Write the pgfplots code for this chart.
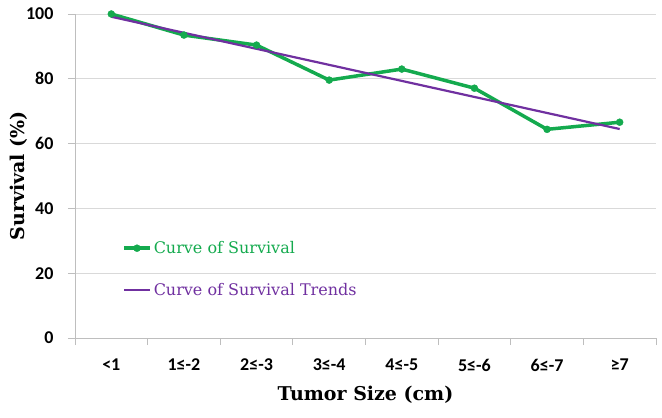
\documentclass[border=0pt]{standalone}
\usepackage{fontspec}
\setmainfont{DejaVu Serif}
\newfontfamily\calb{Carlito}
\usepackage{pgfplots}
\pgfplotsset{compat=1.18}
\definecolor{sgreen}{RGB}{20,170,78}
\definecolor{spurple}{RGB}{112,48,160}
\definecolor{gridgray}{RGB}{217,217,217}
\definecolor{axgray}{RGB}{190,190,190}
\begin{document}
\begin{tikzpicture}
\path[use as bounding box] (-75pt,-80pt) rectangle (587pt,338pt);
\begin{axis}[
  at={(0,0)}, anchor=south west,
  scale only axis, width=581pt, height=324pt,
  xmin=-0.5, xmax=7.5, ymin=0, ymax=100,
  axis x line=bottom, axis y line=left,
  axis line style={-, draw=axgray, line width=0.8pt},
  xtick={0,...,7},
  xticklabels={<1,1≤-2,2≤-3,3≤-4,4≤-5,5≤-6,6≤-7,≥7},
  minor xtick={-0.5,0.5,...,7.5},
  ytick={0,20,...,100},
  ymajorgrids, grid style={gridgray, line width=0.8pt},
  major x tick style={draw=none},
  minor x tick style={draw=axgray, line width=0.8pt},
  major y tick style={draw=axgray, line width=0.8pt},
  tick align=outside,
  major tick length=7pt, minor tick length=7pt,
  /pgf/number format/assume math mode=true,
  tick label style={font=\calb\bfseries\fontsize{18}{18}\selectfont, text=black},
  xticklabel style={anchor=center, yshift=-20pt},
  yticklabel style={anchor=east, xshift=-11pt},
  ylabel={\bfseries Survival (\%)},
  xlabel={\bfseries Tumor Size (cm)},
  label style={font=\fontsize{19}{19}\selectfont},
  xlabel style={at={(0.5,0)}, anchor=center, yshift=-57pt},
  ylabel style={at={(0,0.5)}, anchor=center, rotate=0, yshift=56pt},
  legend style={at={(0.081,0.305)}, anchor=north west, draw=none, fill=none,
    font=\fontsize{16}{16}\selectfont, row sep=24pt, inner sep=0pt},
  legend cell align=left,
  legend image code/.code={\draw[mark repeat=2, mark phase=2, #1] plot coordinates {(0pt,0pt) (13pt,0pt) (26pt,0pt)};},
  clip=false,
]
\addplot[sgreen, line width=3.5pt, mark=*, mark size=3.5pt, mark options={solid, fill=sgreen, draw=sgreen, line width=0.4pt}]
  coordinates {(0,100) (1,93.5) (2,90.4) (3,79.6) (4,83.0) (5,77.1) (6,64.4) (7,66.6)};
\addlegendentry[text=sgreen]{Curve of Survival}
\addplot[spurple, line width=2.2pt]
  coordinates {(0,99.15) (7,64.5)};
\addlegendentry[text=spurple]{Curve of Survival Trends}
\end{axis}
\end{tikzpicture}
\end{document}
